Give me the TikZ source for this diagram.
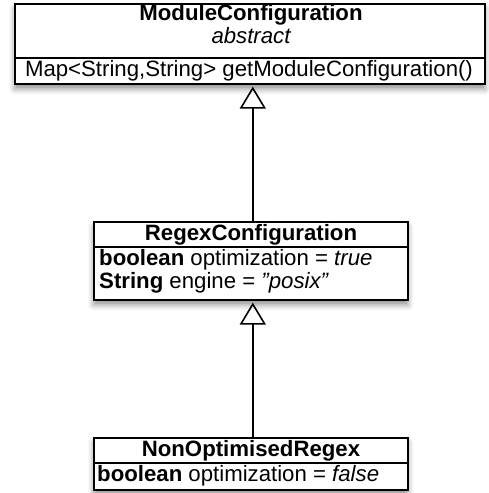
\documentclass[tikz,border=0pt]{standalone}
\usepackage{fontspec}
\setmainfont{Liberation Sans}
\usetikzlibrary{arrows.meta,shadows.blur}

\begin{document}
\begin{tikzpicture}[x=1pt,y=-1pt,
  classbox/.style={draw=black, line width=1.6pt, fill=white, inner sep=0pt,
    anchor=north west,
    blur shadow={shadow xshift=0pt, shadow yshift=-5pt,
      shadow blur radius=6pt, shadow opacity=45}},
  divider/.style={draw=black, line width=1.4pt},
  label/.style={inner sep=0pt, anchor=base, font=\fontsize{22.2}{24}\selectfont},
  member/.style={label, anchor=base west},
  inherits/.style={draw=black, line width=1.6pt, shorten >=2pt,
    -{Triangle[open, length=22pt, width=26pt, line width=1.6pt]}}
]
\useasboundingbox (0,0) rectangle (488,493);

% ModuleConfiguration (abstract)
\node[classbox, minimum width=470pt, minimum height=80pt] (mc) at (14,3) {};
\draw[divider] (mc.west |- 0,58) -- (mc.east |- 0,58);
\node[label, font=\fontsize{22.2}{24}\selectfont\bfseries] (mc-name) at (251,20) {ModuleConfiguration};
\node[label, font=\fontsize{22.2}{24}\selectfont\itshape] (mc-stereo) at (251,43) {abstract};
\node[label] (mc-op) at (249,76) {Map<String,String> getModuleConfiguration()};

% RegexConfiguration
\node[classbox, minimum width=314pt, minimum height=78pt] (rc) at (93,221) {};
\draw[divider] (rc.west |- 0,247) -- (rc.east |- 0,247);
\node[label, font=\fontsize{22.2}{24}\selectfont\bfseries] (rc-name) at (251,240) {RegexConfiguration};
\node[member] (rc-a1) at (99,265) {\textbf{boolean} optimization = \textit{true}};
\node[member] (rc-a2) at (99,288) {\textbf{String} engine = \textit{\char34 posix\char34}};

% NonOptimisedRegex
\node[classbox, minimum width=314pt, minimum height=52pt] (nr) at (93,437) {};
\draw[divider] (nr.west |- 0,463) -- (nr.east |- 0,463);
\node[label, font=\fontsize{22.2}{24}\selectfont\bfseries] (nr-name) at (251,456) {NonOptimisedRegex};
\node[member] (nr-a1) at (97,481) {\textbf{boolean} optimization = \textit{false}};

% generalisation arrows
\draw[inherits] ([xshift=2pt]rc.north) -- ([xshift=2pt]rc.north |- mc.south);
\draw[inherits] ([xshift=2pt]nr.north) -- ([xshift=2pt]rc.south);
\end{tikzpicture}
\end{document}
